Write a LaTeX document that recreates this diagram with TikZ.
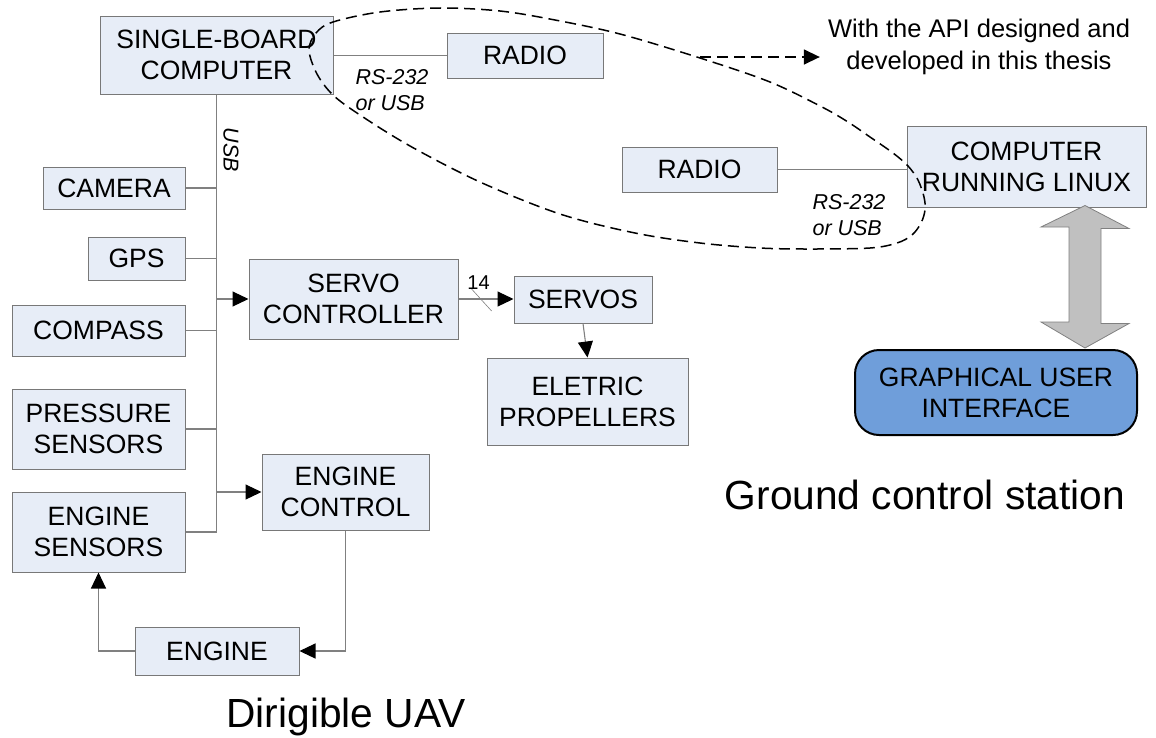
\documentclass[tikz,border=0pt]{standalone}
\usepackage{fontspec}
\setmainfont{Liberation Sans}
\usetikzlibrary{arrows.meta,calc}

\definecolor{boxfill}{RGB}{231,237,247}
\definecolor{boxline}{RGB}{120,120,120}
\definecolor{wire}{RGB}{128,128,128}
\definecolor{guifill}{RGB}{111,158,218}
\definecolor{linkfill}{RGB}{192,192,192}

\newcommand\boxfont{\fontsize{26.5}{31}\selectfont}
\newcommand\lblfont{\fontsize{21.5}{25.5}\selectfont\itshape}
\newcommand\notefont{\fontsize{25.5}{32}\selectfont}
\newcommand\titlefont{\fontsize{40.7}{46}\selectfont}

\tikzset{
  blk/.style={draw=boxline, fill=boxfill, line width=1pt, inner sep=0pt,
              align=center, font=\boxfont},
  wirel/.style={draw=wire, line width=1.1pt},
  tip/.style={-{Triangle[length=16pt,width=15pt,color=black]}},
  lbl/.style={font=\lblfont, align=left, inner sep=0pt},
  loop/.style={draw=black, line width=1.5pt, dash pattern=on 11pt off 6pt},
}

\begin{document}
\begin{tikzpicture}[x=1pt,y=-1pt]
\useasboundingbox (0,0) rectangle (1156,737);

% ---------- on-board blocks ----------
\node[blk, minimum width=233pt, minimum height=78pt] (sbc)      at (216.5,55)  {SINGLE-BOARD\\COMPUTER};
\node[blk, minimum width=156pt, minimum height=45pt] (radioA)   at (525,55.5)  {RADIO};
\node[blk, minimum width=142pt, minimum height=42pt] (camera)   at (114,188)   {CAMERA};
\node[blk, minimum width=97pt,  minimum height=43pt] (gps)      at (136.5,258.5) {GPS};
\node[blk, minimum width=173pt, minimum height=51pt] (compass)  at (98.5,330.5) {COMPASS};
\node[blk, minimum width=173pt, minimum height=80pt] (pressure) at (98.5,429)  {PRESSURE\\SENSORS};
\node[blk, minimum width=173pt, minimum height=80pt] (esens)    at (98.5,532)  {ENGINE\\SENSORS};
\node[blk, minimum width=209pt, minimum height=80pt] (servoctl) at (353.5,299)  {SERVO\\CONTROLLER};
\node[blk, minimum width=138pt, minimum height=47pt] (servos)   at (583,299.5)  {SERVOS};
\node[blk, minimum width=201pt, minimum height=87pt] (props)    at (587.5,401.5) {ELETRIC\\PROPELLERS};
\node[blk, minimum width=167pt, minimum height=76pt] (engctl)   at (345.5,492)  {ENGINE\\CONTROL};
\node[blk, minimum width=164pt, minimum height=48pt] (engine)   at (217,651)   {ENGINE};

% ---------- ground station blocks ----------
\node[blk, minimum width=155pt, minimum height=45pt] (radioB)   at (699.5,169.5) {RADIO};
\node[blk, minimum width=239pt, minimum height=81pt] (crl)      at (1026.5,166.5) {COMPUTER\\RUNNING LINUX};
\node[draw=black, fill=guifill, line width=2pt, rounded corners=24pt,
      minimum width=282pt, minimum height=85pt, inner sep=0pt, align=center,
      font=\boxfont] (gui) at (996,392.5) {GRAPHICAL USER\\INTERFACE};

% ---------- USB bus ----------
\coordinate (busTop) at (sbc.south);
\coordinate (busEnd) at (busTop |- esens.east);
\draw[wirel] (busTop) -- (busEnd);
\node[lbl, rotate=-90] (usb) at (231,150) {USB};

\foreach \n in {camera,gps,compass,pressure,esens}
  \draw[wirel] (\n.east) -- (\n.east -| busTop);

\draw[wirel, tip] (busTop |- servoctl.west) -- (servoctl.west);
\draw[wirel, tip] (busTop |- engctl.west) -- (engctl.west);

% ---------- servo chain ----------
\draw[wirel, tip] (servoctl.east) -- (servoctl.east -| servos.west);
\coordinate (w14) at ($(servoctl.east)!0.42!(servoctl.east -| servos.west)$);
\draw[draw=wire, line width=0.6pt] ($(w14)+(-10,-10)$) -- ($(w14)+(10,12)$);
\node[font=\fontsize{20}{24}\selectfont, inner sep=0pt] (n14) at ($(w14)+(-3,-16)$) {14};
\draw[wirel, tip] (servos.south) -- (props.north);

% ---------- engine loop ----------
\draw[wirel, tip] (engctl.south) |- (engine.east);
\draw[wirel, tip] (engine.west) -| (esens.south);

% ---------- radio links ----------
\draw[wirel] (sbc.east |- radioA.west) -- (radioA.west);
\draw[wirel] (radioB.east) -- (radioB.east -| crl.west);
\node[lbl] (rsA) at (392,90)  {RS-232\\or USB};
\node[lbl] (rsB) at (849,215) {RS-232\\or USB};

% ---------- link computer <-> GUI ----------
\filldraw[fill=linkfill, draw=wire, line width=0.8pt]
  ($(crl.south)+(58.5,-2)$) coordinate (upTip)
  -- ++(44,23) -- ++(-28,0) -- ++(0,95) -- ++(28,0)
  -- ($(gui.north -| upTip)+(0,-1)$) -- ++(-44,-26) -- ++(28,0)
  -- ++(0,-95) -- ++(-28,0) -- cycle;

% ---------- API boundary ----------
\draw[loop] plot[smooth cycle, tension=0.55] coordinates {
  (309,50) (316,33) (333,22) (380,12) (440,8) (500,11) (555,20) (620,34)
  (700,58) (770,82) (822,107) (848,122) (870,137) (893,153) (908,166)
  (918,180) (924,197) (925,210) (921,223) (912,235) (897,243) (870,248)
  (810,249) (760,248) (700,243) (635,233)
  (560,214) (480,182) (410,146) (360,115) (333,95) (317,74)};
\coordinate (apiStart) at (700,57);
\node[font=\notefont, align=center, inner xsep=8pt, inner ysep=0pt] (api) at (979,47)
  {With the API designed and\\developed in this thesis};
\draw[loop, tip] (apiStart) -- (apiStart -| api.west);

% ---------- captions ----------
\node[font=\titlefont, inner sep=0pt] (gcs) at (925,495) {Ground control station};
\node[font=\titlefont, inner sep=0pt] (uav) at (346,717) {Dirigible UAV};
\end{tikzpicture}
\end{document}
